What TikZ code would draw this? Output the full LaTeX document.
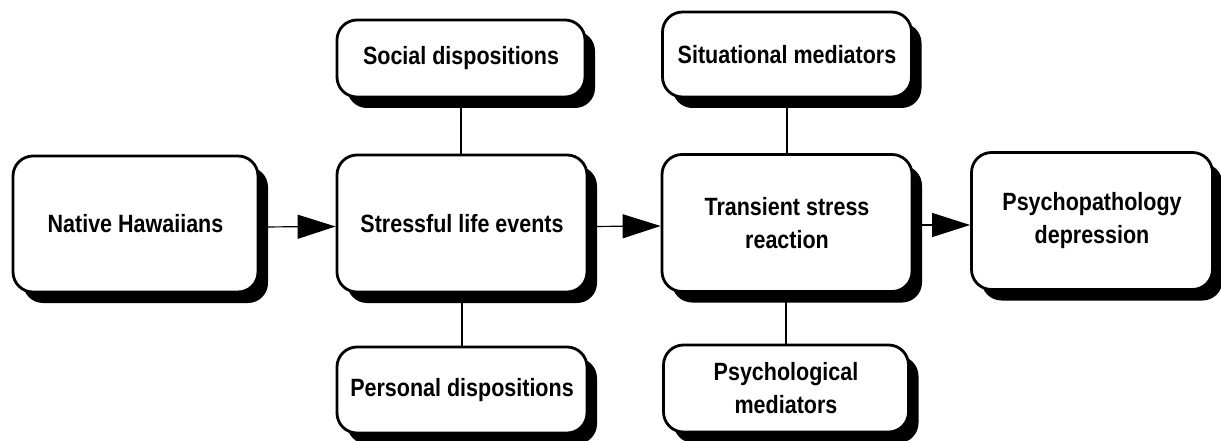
\documentclass[tikz,border=0pt]{standalone}
\usepackage{fontspec}
\setmainfont[FakeStretch=0.86]{Liberation Sans}
\usetikzlibrary{arrows.meta,shadows}
\begin{document}
\begin{tikzpicture}[x=1pt,y=-1pt,
  box/.style={draw=black, line width=2.8pt, fill=white, rounded corners=20pt,
    align=center, inner sep=0pt,
    font=\fontsize{25}{33}\selectfont\bfseries,
    drop shadow={shadow xshift=10pt, shadow yshift=-11pt, opacity=1, fill=black}},
  conn/.style={draw=black, line width=1.2pt},
  arr/.style={conn, -{Triangle[length=38pt,width=24pt]}}]
\useasboundingbox (0,0) rectangle (1221,441);
\node[box, minimum width=245pt, minimum height=136pt] (nh) at (135.5,224) {Native Hawaiians};
\node[box, minimum width=250pt, minimum height=137pt] (sl) at (462,223.5) {Stressful life events};
\node[box, minimum width=250pt, minimum height=137pt] (ts) at (787,223) {Transient stress\\reaction};
\node[box, minimum width=241pt, minimum height=137pt] (pd) at (1092,221) {Psychopathology\\depression};
\node[box, minimum width=248pt, minimum height=77pt] (soc) at (461,58.5) {Social dispositions};
\node[box, minimum width=250pt, minimum height=86pt] (per) at (462,390) {Personal dispositions};
\node[box, minimum width=249pt, minimum height=85pt] (sit) at (787,54.5) {Situational mediators};
\node[box, minimum width=245pt, minimum height=87pt] (psy) at (786,388.5) {Psychological\\mediators};
\draw[arr] ([yshift=-3pt]nh.east) -- ([yshift=-3pt]sl.west);
\draw[arr] ([yshift=-3pt]sl.east) -- ([yshift=-3pt]ts.west);
\draw[arr] ([yshift=-2pt]ts.east) -- ([yshift=-4pt]pd.west);
\draw[conn] (soc.south) -- (soc.south |- sl.north);
\draw[conn] (per.north) -- (per.north |- sl.south);
\draw[conn] (sit.south) -- (sit.south |- ts.north);
\draw[conn] (psy.north) -- (psy.north |- ts.south);
\end{tikzpicture}
\end{document}
